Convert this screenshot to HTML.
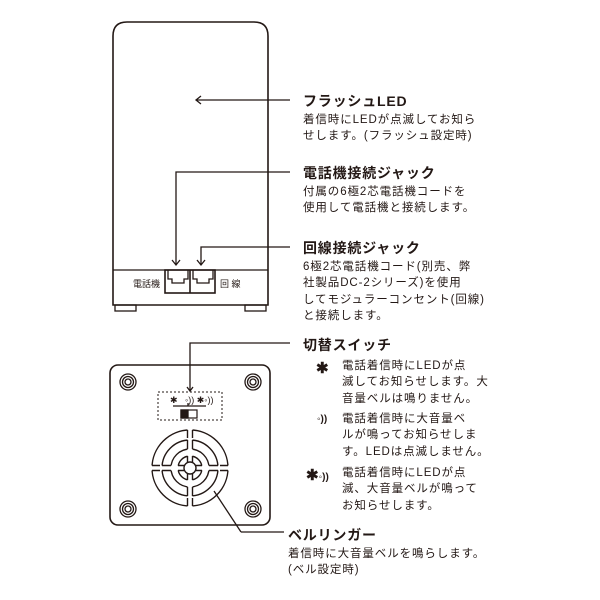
<!DOCTYPE html>
<html><head><meta charset="utf-8"><style>
body{margin:0;background:#fff;}
.t{position:absolute;font-family:"Liberation Sans","Noto Sans CJK JP",sans-serif;color:#231815;white-space:nowrap;}
.h{font-size:14px;font-weight:bold;letter-spacing:0.8px;}
.s{font-size:11.5px;line-height:16.3px;letter-spacing:0.9px;}
</style></head><body>
<div style="position:relative;width:600px;height:600px;overflow:hidden">
<svg width="600" height="600" style="position:absolute;left:0;top:0" fill="none" stroke="#231815" stroke-width="1.3">
<path d="M113,305 L113,36 Q113,22 127,22 L254,22 Q268,22 268,36 L268,305 Z" stroke-width="1.6"/>
<line x1="113" y1="270" x2="268" y2="270"/>
<rect x="115" y="305" width="21" height="6"/><rect x="245" y="305" width="21" height="6"/>
<rect x="165" y="270" width="50" height="23" stroke-width="1.6"/>
<line x1="190" y1="270" x2="190" y2="293" stroke-width="1.6"/>
<path d="M168,270 v9 h4 v4 h12 v-4 h4 v-9 M193,270 v9 h4 v4 h12 v-4 h4 v-9"/>
<line x1="290" y1="100" x2="196" y2="100"/><path d="M201,96 L196,100 L201,104"/>
<path d="M290,172 L176,172 L176,265"/><path d="M172,260 L176,265 L180,260"/>
<path d="M290,247 L201,247 L201,265"/><path d="M197,260 L201,265 L205,260"/>
<rect x="110" y="365" width="160" height="160" rx="8" stroke-width="1.6"/>
<g>
<circle cx="128" cy="382" r="8"/><circle cx="128" cy="382" r="5.5"/><circle cx="128" cy="382" r="3"/>
<circle cx="253" cy="382" r="8"/><circle cx="253" cy="382" r="5.5"/><circle cx="253" cy="382" r="3"/>
<circle cx="128" cy="509" r="8"/><circle cx="128" cy="509" r="5.5"/><circle cx="128" cy="509" r="3"/>
<circle cx="253" cy="509" r="8"/><circle cx="253" cy="509" r="5.5"/><circle cx="253" cy="509" r="3"/>
</g>
<rect x="158" y="392" width="64" height="28" stroke-dasharray="2,2" stroke-width="1"/>
<path d="M290,343 L190,343 L190,390"/><path d="M187,387 L190,391 L193,387"/>
<line x1="173" y1="406" x2="206" y2="406"/><line x1="188" y1="403" x2="188" y2="406"/>
<rect x="181" y="410" width="16" height="8" stroke-width="1.2"/>
<rect x="181" y="410" width="7" height="8" fill="#231815"/>
<g stroke-width="1.4">
<circle cx="190" cy="468" r="38"/><circle cx="190" cy="468" r="28"/>
<circle cx="190" cy="468" r="19"/><circle cx="190" cy="468" r="12"/>
<circle cx="190" cy="468" r="6"/>
</g>
<g stroke="#fff" stroke-width="5">
<line x1="190" y1="428" x2="190" y2="461"/><line x1="190" y1="475" x2="190" y2="508"/>
<line x1="150" y1="468" x2="183" y2="468"/><line x1="197" y1="468" x2="230" y2="468"/>
</g>
<g stroke-width="1.4">
<path d="M187.5,430 v8 M187.5,440 v9 M187.5,456 v6 M192.5,430 v8 M192.5,440 v9 M192.5,456 v6"/>
<path d="M187.5,474 v6 M187.5,487 v9 M187.5,498 v8 M192.5,474 v6 M192.5,487 v9 M192.5,498 v8"/>
<path d="M152,465.5 h8 M162,465.5 h9 M178,465.5 h6 M152,470.5 h8 M162,470.5 h9 M178,470.5 h6"/>
<path d="M196,465.5 h6 M209,465.5 h9 M220,465.5 h8 M196,470.5 h6 M209,470.5 h9 M220,470.5 h8"/>
</g>
<line x1="214" y1="491" x2="241" y2="532"/>
<line x1="241" y1="532" x2="284" y2="532"/>
</svg>
<div class="t" style="left:133px;top:277px;font-size:9px">電話機</div>
<div class="t" style="left:220px;top:277px;font-size:9px">回 線</div>
<div class="t" style="left:170px;top:395px;font-size:9px">✱ &nbsp;&nbsp;◦)) ✱◦))</div>

<div class="t h" style="left:303px;top:91px">フラッシュLED</div>
<div class="t s" style="left:303px;top:112px">着信時にLEDが点滅してお知ら<br>せします。(フラッシュ設定時)</div>
<div class="t h" style="left:303px;top:163px">電話機接続ジャック</div>
<div class="t s" style="left:303px;top:184px">付属の6極2芯電話機コードを<br>使用して電話機と接続します。</div>
<div class="t h" style="left:303px;top:238px">回線接続ジャック</div>
<div class="t s" style="left:303px;top:259px">6極2芯電話機コード(別売、弊<br>社製品DC-2シリーズ)を使用<br>してモジュラーコンセント(回線)<br>と接続します。</div>
<div class="t h" style="left:303px;top:335px">切替スイッチ</div>
<div class="t" style="left:316px;top:359px;font-size:15px;font-weight:bold">✱</div>
<div class="t s" style="left:342px;top:358px">電話着信時にLEDが点<br>滅してお知らせします。大<br>音量ベルは鳴りません。</div>
<div class="t" style="left:317px;top:414px;font-size:10px;font-weight:bold">◦))</div>
<div class="t s" style="left:342px;top:411px">電話着信時に大音量ベ<br>ルが鳴ってお知らせしま<br>す。LEDは点滅しません。</div>
<div class="t" style="left:306px;top:466px;font-size:15px;font-weight:bold">✱<span style="font-size:10px">◦))</span></div>
<div class="t s" style="left:342px;top:465px">電話着信時にLEDが点<br>滅、大音量ベルが鳴って<br>お知らせします。</div>
<div class="t h" style="left:288px;top:525px">ベルリンガー</div>
<div class="t s" style="left:288px;top:546px">着信時に大音量ベルを鳴らします。<br>(ベル設定時)</div>
</div>
</body></html>
